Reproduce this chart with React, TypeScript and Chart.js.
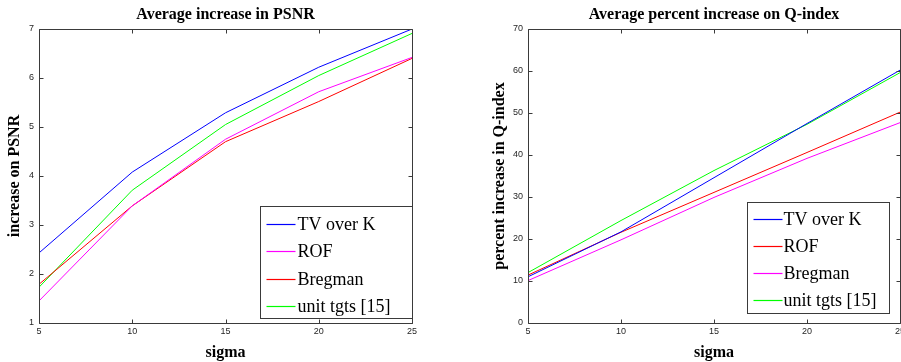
import React, { useEffect, useRef } from "react";
import { Chart, registerables } from "chart.js";
Chart.register(...registerables);

// ---- data ----
const sigma = [5, 10, 15, 20, 25];
const seriesNames = ["TV over K", "ROF", "Bregman", "unit tgts [15]"];

const psnrTV = [2.43, 4.08, 5.29, 6.22, 7.0];
const psnrROF = [1.45, 3.39, 4.75, 5.72, 6.42];
const psnrBregman = [1.79, 3.39, 4.7, 5.52, 6.4];
const psnrUnit = [1.73, 3.71, 5.05, 6.05, 6.91];

const qTV = [11.0, 21.7, 34.6, 47.5, 60.2];
const qROF = [11.4, 21.6, 31.1, 40.6, 50.2];
const qBregman = [10.1, 19.8, 29.9, 39.2, 47.7];
const qUnit = [12.0, 24.4, 36.3, 47.3, 59.6];

const xTicks = [5, 10, 15, 20, 25];
const psnrTicks = [1, 2, 3, 4, 5, 6, 7];
const qTicks = [0, 10, 20, 30, 40, 50, 60, 70];

const BLUE = "rgb(0,0,255)";
const MAGENTA = "rgb(255,0,255)";
const RED = "rgb(255,0,0)";
const GREEN = "rgb(0,255,0)";

const framePlugin = {
  id: "matlabFrame",
  afterDraw(chart: any, _args: any, opts: any) {
    const { ctx, chartArea: a, scales } = chart;
    ctx.save();
    ctx.strokeStyle = opts.color;
    ctx.lineWidth = 1;
    const L = Math.round(a.left) + 0.5;
    const R = Math.round(a.right) + 0.5;
    const T = Math.round(a.top) + 0.5;
    const B = Math.round(a.bottom) + 0.5;
    ctx.beginPath();
    ctx.rect(L, T, R - L, B - T);
    ctx.stroke();
    const len = opts.tickLength;
    ctx.beginPath();
    scales.x.ticks.forEach((t: any) => {
      const px = Math.round(scales.x.getPixelForValue(t.value)) + 0.5;
      ctx.moveTo(px, B);
      ctx.lineTo(px, B - len);
      ctx.moveTo(px, T);
      ctx.lineTo(px, T + len);
    });
    scales.y.ticks.forEach((t: any) => {
      const py = Math.round(scales.y.getPixelForValue(t.value)) + 0.5;
      ctx.moveTo(L, py);
      ctx.lineTo(L + len, py);
      ctx.moveTo(R, py);
      ctx.lineTo(R - len, py);
    });
    ctx.stroke();

    // legend
    const lg = opts.legend;
    const right = Math.round(a.right - lg.right) + 0.5;
    const bottom = Math.round(a.bottom - lg.bottom) + 0.5;
    const left = right - lg.width;
    const top = bottom - lg.height;
    ctx.fillStyle = "#ffffff";
    ctx.fillRect(left, top, lg.width, lg.height);
    ctx.strokeStyle = opts.color;
    ctx.strokeRect(left, top, lg.width, lg.height);
    ctx.font = lg.font;
    ctx.textBaseline = "middle";
    ctx.textAlign = "left";
    chart.data.datasets.forEach((ds: any, i: number) => {
      const y = Math.round(top + lg.firstRow + i * lg.rowGap) + 0.5;
      ctx.strokeStyle = ds.borderColor;
      ctx.lineWidth = 1.2;
      ctx.beginPath();
      ctx.moveTo(left + lg.lineStart, y);
      ctx.lineTo(left + lg.lineEnd, y);
      ctx.stroke();
      ctx.fillStyle = "#000000";
      ctx.fillText(ds.label, left + lg.textX, y + 1);
    });
    ctx.restore();
  },
};

function makeDataset(label: string, values: number[], color: string) {
  return {
    label,
    data: sigma.map((s, i) => ({ x: s, y: values[i] })),
    borderColor: color,
    backgroundColor: color,
    borderWidth: 1,
    pointRadius: 0,
    fill: false,
    tension: 0,
  };
}

const tickFont = { family: "'Liberation Sans', Arial, sans-serif", size: 9 };
const titleFont = { family: "'Liberation Serif', 'Times New Roman', serif", size: 16, weight: "bold" as const };

function buildConfig(p: {
  title: string;
  yTitle: string;
  yMin: number;
  yMax: number;
  yStep: number;
  yTicks: number[];
  datasets: any[];
  yWidth: number;
  yTitlePad: number;
  padRight: number;
  legend: any;
}) {
  return {
    type: "line" as const,
    data: { datasets: p.datasets },
    plugins: [framePlugin],
    options: {
      animation: false,
      responsive: false,
      devicePixelRatio: 1,
      layout: { padding: { left: 0, right: p.padRight, top: 0, bottom: 0 } },
      plugins: {
        legend: { display: false },
        tooltip: { enabled: false },
        title: {
          display: true,
          text: p.title,
          fullSize: false,
          color: "#000",
          font: { ...titleFont, lineHeight: "19px" },
          padding: { top: 5, bottom: 5 },
        },
        matlabFrame: { color: "#3a3a3a", tickLength: 4, legend: p.legend },
      },
      scales: {
        x: {
          type: "linear",
          min: 5,
          max: 25,
          afterBuildTicks: (s: any) => {
            s.ticks = xTicks.map((v) => ({ value: v }));
          },
          grid: { display: false, drawTicks: false },
          border: { display: false },
          ticks: { font: tickFont, color: "#262626", padding: 3, maxRotation: 0, autoSkip: false },
          title: {
            display: true,
            text: "sigma",
            color: "#000",
            font: { ...titleFont, lineHeight: "18px" },
            padding: { top: 0, bottom: 0 },
          },
          afterFit: (s: any) => {
            s.height = 39;
          },
        },
        y: {
          type: "linear",
          min: p.yMin,
          max: p.yMax,
          afterBuildTicks: (s: any) => {
            s.ticks = p.yTicks.map((v) => ({ value: v }));
          },
          grid: { display: false, drawTicks: false },
          border: { display: false },
          ticks: { font: tickFont, color: "#262626", padding: 5, autoSkip: false },
          title: {
            display: true,
            text: p.yTitle,
            color: "#000",
            font: { ...titleFont, lineHeight: "18px" },
            padding: { top: p.yTitlePad, bottom: 0 },
          },
          afterFit: (s: any) => {
            s.width = p.yWidth;
          },
        },
      },
    },
  };
}

function ChartBox({ config, left, width }: { config: any; left: number; width: number }) {
  const ref = useRef<HTMLCanvasElement | null>(null);
  useEffect(() => {
    if (!ref.current) return;
    const chart = new Chart(ref.current, config);
    return () => chart.destroy();
  }, [config]);
  return (
    <canvas
      ref={ref}
      width={width}
      height={362}
      style={{ position: "absolute", left, top: 0, width, height: 362 }}
    />
  );
}

const leftConfig = buildConfig({
  title: "Average increase in PSNR",
  yTitle: "increase on PSNR",
  yMin: 1,
  yMax: 7,
  yStep: 1,
  yTicks: psnrTicks,
  datasets: [
    makeDataset(seriesNames[0], psnrTV, BLUE),
    makeDataset(seriesNames[1], psnrROF, MAGENTA),
    makeDataset(seriesNames[2], psnrBregman, RED),
    makeDataset(seriesNames[3], psnrUnit, GREEN),
  ],
  yWidth: 39,
  yTitlePad: 6,
  padRight: 38,
  legend: {
    width: 152,
    height: 112,
    right: 0,
    bottom: 5,
    firstRow: 17,
    rowGap: 27.5,
    lineStart: 6,
    lineEnd: 35,
    textX: 37,
    font: "18px 'Liberation Serif', 'Times New Roman', serif",
  },
});

const rightConfig = buildConfig({
  title: "Average percent increase on Q-index",
  yTitle: "percent increase in Q-index",
  yMin: 0,
  yMax: 70,
  yStep: 10,
  yTicks: qTicks,
  datasets: [
    makeDataset(seriesNames[0], qTV, BLUE),
    makeDataset(seriesNames[1], qROF, RED),
    makeDataset(seriesNames[2], qBregman, MAGENTA),
    makeDataset(seriesNames[3], qUnit, GREEN),
  ],
  yWidth: 78,
  yTitlePad: 41,
  padRight: 10,
  legend: {
    width: 142,
    height: 111,
    right: 11,
    bottom: 10,
    firstRow: 16,
    rowGap: 27.3,
    lineStart: 6,
    lineEnd: 35,
    textX: 36,
    font: "18px 'Liberation Serif', 'Times New Roman', serif",
  },
});

export default function App() {
  return (
    <div
      style={{
        position: "fixed",
        left: 0,
        top: 0,
        width: 901,
        height: 362,
        overflow: "hidden",
        background: "#fff",
      }}
    >
      <ChartBox config={leftConfig} left={0} width={450} />
      <ChartBox config={rightConfig} left={450} width={460} />
    </div>
  );
}
